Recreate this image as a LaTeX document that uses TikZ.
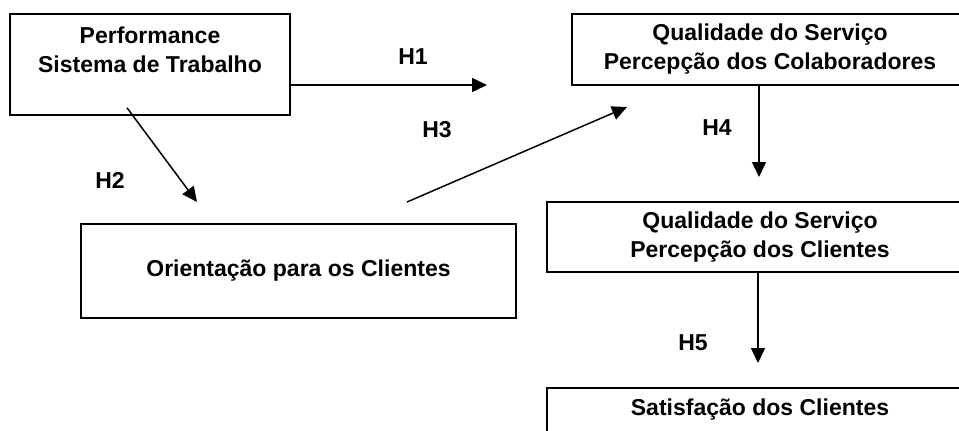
\documentclass[tikz,border=0pt]{standalone}
\usepackage{fontspec}
\setmainfont{Liberation Sans}
\usepackage{tikz}
\usetikzlibrary{arrows.meta}

\begin{document}
\begin{tikzpicture}[x=1pt, y=-1pt]
        \tikzstyle{box} = [rectangle, draw=black, line width=1.5pt, inner sep=0pt, align=center, font=\fontsize{23}{29}\selectfont\bfseries]
        \tikzstyle{hyp} = [font=\fontsize{23}{29}\selectfont\bfseries]
        \tikzstyle{arrow} = [line width=1.5pt, -{Triangle[length=15pt, width=14pt]}]

        \useasboundingbox (0,0) rectangle (959,431);

        \node (perf) [box, minimum width=280pt, minimum height=101pt] at (150,64.5) {Performance\\Sistema de Trabalho\\~};
        \node (qcolab) [box, minimum width=396pt, minimum height=71pt] at (770,49.5) {Qualidade do Serviço\\Percepção dos Colaboradores};
        \node (orient) [box, minimum width=435pt, minimum height=94pt] at (298.5,271) {Orientação para os Clientes};
        \node (qclient) [box, minimum width=426pt, minimum height=70pt] at (760,237) {Qualidade do Serviço\\Percepção dos Clientes};
        \node (satisf) [box, minimum width=426pt, minimum height=44pt] at (760,410) {Satisfação dos Clientes};

        \coordinate (h1end) at (487,85);
        \coordinate (h2end) at (197,202);
        \coordinate (h3start) at (407,202);
        \coordinate (h3end) at (627,107);
        \coordinate (h4end) at (759,177);
        \coordinate (h5end) at (758,363);

        \draw [arrow] (perf.east |- h1end) -- (h1end);
        \draw [arrow] ([shift={(-23,-8)}]perf.south) -- (h2end);
        \draw [arrow] (h3start) -- (h3end);
        \draw [arrow] (qcolab.south -| h4end) -- (h4end);
        \draw [arrow] (qclient.south -| h5end) -- (h5end);

        \node (h1) [hyp] at (413,57) {H1};
        \node (h2) [hyp] at (110,180) {H2};
        \node (h3) [hyp] at (437,130) {H3};
        \node (h4) [hyp] at (717,128) {H4};
        \node (h5) [hyp] at (693,343) {H5};
    \end{tikzpicture}
\end{document}
